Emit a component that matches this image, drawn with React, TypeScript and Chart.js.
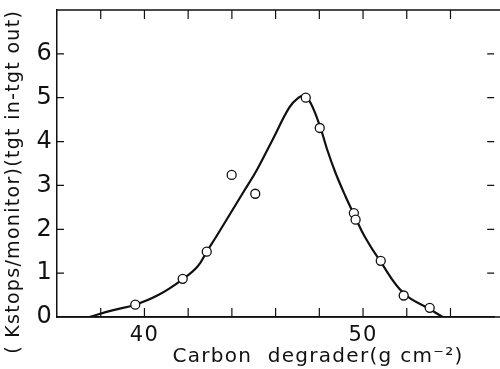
import React, { useEffect, useRef } from "react";
import { Chart, registerables } from "chart.js";

Chart.register(...registerables);

// Measured data points (carbon degrader thickness, g cm^-2 ; normalized stops)
const pointX = [39.58, 41.75, 42.85, 43.99, 45.07, 47.38, 48.02, 49.58, 49.66, 50.81, 51.86, 53.05];
const pointY = [0.28, 0.87, 1.49, 3.24, 2.81, 5.0, 4.31, 2.37, 2.22, 1.28, 0.49, 0.21];

// Hand-drawn fitted curve
const curveX = [37.48, 38.53, 39.58, 40.63, 41.75, 42.43, 42.85, 43.33, 43.93, 44.53, 45.13, 45.88, 46.63, 47.05, 47.32, 47.62, 48.05, 48.35, 48.73, 49.18, 49.62, 50.08, 50.8, 51.86, 53.08, 53.64];
const curveY = [0.0, 0.15, 0.28, 0.5, 0.86, 1.15, 1.49, 1.87, 2.36, 2.85, 3.34, 4.06, 4.78, 5.0, 5.05, 4.86, 4.32, 3.83, 3.3, 2.77, 2.3, 1.83, 1.26, 0.54, 0.17, 0.0];

const xLabelTicks = [40, 50];
const yLabelTicks = [0, 1, 2, 3, 4, 5, 6];
const xTitle = "Carbon  degrader(g cm\u207B\u00B2)    ";
const yTitle = "( Kstops/monitor)(tgt in-tgt out)     ";

const FONT = "'DejaVu Sans', sans-serif";

const noPad = (s: any) => {
  s.paddingTop = 0;
  s.paddingBottom = 0;
  s.paddingLeft = 0;
  s.paddingRight = 0;
};

const framePlugin = {
  id: "frame",
  beforeDraw(chart: any) {
    chart.ctx.letterSpacing = "1.3px";
  },
  afterDraw(chart: any) {
    const { ctx, chartArea } = chart;
    const xs = chart.scales.x;
    const ys = chart.scales.y;
    const right = Math.min(chartArea.right, chart.width);
    ctx.save();
    ctx.strokeStyle = "#111";
    ctx.lineWidth = 1.5;
    ctx.beginPath();
    ctx.moveTo(chartArea.left, chartArea.top);
    ctx.lineTo(chart.width, chartArea.top);
    ctx.moveTo(chartArea.left, chartArea.bottom);
    ctx.lineTo(chart.width, chartArea.bottom);
    ctx.stroke();
    ctx.lineWidth = 1.2;
    for (let v = xs.min + 2; v < xs.max; v += 2) {
      const px = xs.getPixelForValue(v);
      ctx.beginPath();
      ctx.moveTo(px, chartArea.bottom);
      ctx.lineTo(px, chartArea.bottom - 9);
      ctx.moveTo(px, chartArea.top);
      ctx.lineTo(px, chartArea.top + 9);
      ctx.stroke();
    }
    for (let v = ys.min + 1; v < ys.max; v += 1) {
      const py = ys.getPixelForValue(v);
      ctx.beginPath();
      ctx.moveTo(chartArea.left, py);
      ctx.lineTo(chartArea.left + 7, py);
      ctx.moveTo(right, py);
      ctx.lineTo(right - 7, py);
      ctx.stroke();
    }
    ctx.restore();
  },
};

export default function App() {
  const ref = useRef<HTMLCanvasElement | null>(null);
  useEffect(() => {
    if (!ref.current) return;
    const chart = new Chart(ref.current, {
      type: "scatter",
      data: {
        datasets: [
          {
            label: "curve",
            data: curveX.map((x, i) => ({ x, y: curveY[i] })),
            showLine: true,
            borderColor: "#111",
            borderWidth: 2.2,
            pointRadius: 0,
            tension: 0.4,
            order: 2,
          },
          {
            label: "data",
            data: pointX.map((x, i) => ({ x, y: pointY[i] })),
            showLine: false,
            pointRadius: 4.5,
            pointBackgroundColor: "#fff",
            pointBorderColor: "#111",
            pointBorderWidth: 1.3,
            order: 1,
          },
        ],
      },
      options: {
        responsive: false,
        animation: false,
        layout: { padding: { top: 10, left: 0, right: -5.5, bottom: 0 } },
        plugins: { legend: { display: false }, tooltip: { enabled: false } },
        scales: {
          x: {
            type: "linear",
            min: 36,
            max: 56,
            grid: { display: false, drawTicks: false },
            border: { display: true, color: "#111", width: 1.5 },
            afterBuildTicks: (s: any) => {
              s.ticks = xLabelTicks.map((v) => ({ value: v }));
            },
            afterFit: (s: any) => {
              s.height = 52;
              noPad(s);
            },
            ticks: {
              color: "#111",
              padding: 6,
              font: { family: FONT, size: 21 },
            },
            title: {
              display: true,
              text: xTitle,
              color: "#111",
              align: "end",
              padding: { top: 2, bottom: 0 },
              font: { family: FONT, size: 20 },
            },
          },
          y: {
            type: "linear",
            min: 0,
            max: 7,
            grid: { display: false, drawTicks: false },
            border: { display: true, color: "#111", width: 1.5 },
            afterBuildTicks: (s: any) => {
              s.ticks = yLabelTicks.map((v) => ({ value: v }));
            },
            afterFit: (s: any) => {
              s.width = 57;
              noPad(s);
            },
            ticks: {
              color: "#111",
              padding: 4,
              font: { family: FONT, size: 24 },
            },
            title: {
              display: true,
              text: yTitle,
              color: "#111",
              padding: { top: 3, bottom: 0 },
              font: { family: FONT, size: 19 },
            },
          },
        },
      },
      plugins: [framePlugin],
    } as any);
    return () => chart.destroy();
  }, []);
  return (
    <div style={{ position: "absolute", left: 0, top: 0, width: 500, height: 369, background: "#fff" }}>
      <canvas ref={ref} width={500} height={369} />
    </div>
  );
}
